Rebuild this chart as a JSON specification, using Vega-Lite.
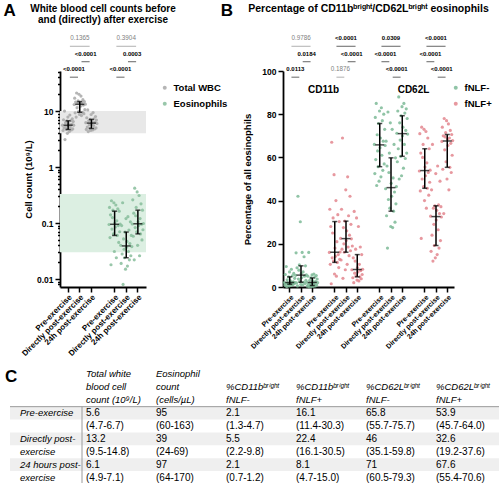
{
"$schema":"https://vega.github.io/schema/vega-lite/v6.json",
"padding":{"left":3,"top":1,"right":2,"bottom":0},
"background":"white",
"config":{
 "font":"Liberation Sans",
 "view":{"stroke":null},
 "axis":{"grid":false,"domainColor":"black","domainWidth":1.8,"tickColor":"black","tickWidth":1.5,"labelColor":"black","labelFontWeight":"bold","titleColor":"black","titleFontWeight":"bold","labelFont":"Liberation Sans","titleFont":"Liberation Sans"},
 "legend":{"labelFont":"Liberation Sans","labelFontSize":9.5,"labelFontWeight":"bold","labelColor":"black","symbolType":"circle","symbolSize":16,"rowPadding":5,"symbolStrokeWidth":0},
 "title":{"font":"Liberation Sans","color":"black","subtitleFont":"Liberation Sans","subtitleColor":"black"}
},
"datasets":{
"ptsA":[
{"g":"W|Pre-exercise","c":"Total WBC","i":6,"v":3.1},{"g":"W|Pre-exercise","c":"Total WBC","i":11,"v":4.0},{"g":"W|Pre-exercise","c":"Total WBC","i":15,"v":4.3},{"g":"W|Pre-exercise","c":"Total WBC","i":2,"v":4.5},{"g":"W|Pre-exercise","c":"Total WBC","i":19,"v":4.6},{"g":"W|Pre-exercise","c":"Total WBC","i":9,"v":4.7},{"g":"W|Pre-exercise","c":"Total WBC","i":22,"v":4.8},{"g":"W|Pre-exercise","c":"Total WBC","i":4,"v":5.0},{"g":"W|Pre-exercise","c":"Total WBC","i":17,"v":5.2},{"g":"W|Pre-exercise","c":"Total WBC","i":8,"v":5.3},{"g":"W|Pre-exercise","c":"Total WBC","i":13,"v":5.5},{"g":"W|Pre-exercise","c":"Total WBC","i":24,"v":5.6},{"g":"W|Pre-exercise","c":"Total WBC","i":1,"v":5.6},{"g":"W|Pre-exercise","c":"Total WBC","i":20,"v":5.8},{"g":"W|Pre-exercise","c":"Total WBC","i":14,"v":6.0},{"g":"W|Pre-exercise","c":"Total WBC","i":7,"v":6.2},{"g":"W|Pre-exercise","c":"Total WBC","i":23,"v":6.5},{"g":"W|Pre-exercise","c":"Total WBC","i":10,"v":6.7},{"g":"W|Pre-exercise","c":"Total WBC","i":18,"v":6.8},{"g":"W|Pre-exercise","c":"Total WBC","i":3,"v":7.0},{"g":"W|Pre-exercise","c":"Total WBC","i":21,"v":7.3},{"g":"W|Pre-exercise","c":"Total WBC","i":12,"v":7.8},{"g":"W|Pre-exercise","c":"Total WBC","i":16,"v":8.5},{"g":"W|Pre-exercise","c":"Total WBC","i":5,"v":10.0},
{"g":"W|Directly post-exercise","c":"Total WBC","i":5,"v":7.8},{"g":"W|Directly post-exercise","c":"Total WBC","i":16,"v":8.3},{"g":"W|Directly post-exercise","c":"Total WBC","i":12,"v":8.7},{"g":"W|Directly post-exercise","c":"Total WBC","i":21,"v":9.0},{"g":"W|Directly post-exercise","c":"Total WBC","i":3,"v":9.3},{"g":"W|Directly post-exercise","c":"Total WBC","i":18,"v":9.5},{"g":"W|Directly post-exercise","c":"Total WBC","i":10,"v":9.8},{"g":"W|Directly post-exercise","c":"Total WBC","i":23,"v":10.6},{"g":"W|Directly post-exercise","c":"Total WBC","i":7,"v":11.5},{"g":"W|Directly post-exercise","c":"Total WBC","i":14,"v":12.2},{"g":"W|Directly post-exercise","c":"Total WBC","i":20,"v":12.8},{"g":"W|Directly post-exercise","c":"Total WBC","i":1,"v":13.1},{"g":"W|Directly post-exercise","c":"Total WBC","i":24,"v":13.3},{"g":"W|Directly post-exercise","c":"Total WBC","i":13,"v":13.6},{"g":"W|Directly post-exercise","c":"Total WBC","i":17,"v":13.9},{"g":"W|Directly post-exercise","c":"Total WBC","i":8,"v":14.2},{"g":"W|Directly post-exercise","c":"Total WBC","i":4,"v":14.5},{"g":"W|Directly post-exercise","c":"Total WBC","i":22,"v":14.8},{"g":"W|Directly post-exercise","c":"Total WBC","i":9,"v":15.2},{"g":"W|Directly post-exercise","c":"Total WBC","i":19,"v":16.0},{"g":"W|Directly post-exercise","c":"Total WBC","i":2,"v":17.0},{"g":"W|Directly post-exercise","c":"Total WBC","i":15,"v":18.5},{"g":"W|Directly post-exercise","c":"Total WBC","i":11,"v":20.0},{"g":"W|Directly post-exercise","c":"Total WBC","i":6,"v":21.0},
{"g":"W|24h post-exercise","c":"Total WBC","i":6,"v":4.3},{"g":"W|24h post-exercise","c":"Total WBC","i":11,"v":4.5},{"g":"W|24h post-exercise","c":"Total WBC","i":15,"v":4.6},{"g":"W|24h post-exercise","c":"Total WBC","i":2,"v":4.7},{"g":"W|24h post-exercise","c":"Total WBC","i":19,"v":4.8},{"g":"W|24h post-exercise","c":"Total WBC","i":9,"v":4.9},{"g":"W|24h post-exercise","c":"Total WBC","i":22,"v":5.0},{"g":"W|24h post-exercise","c":"Total WBC","i":4,"v":5.2},{"g":"W|24h post-exercise","c":"Total WBC","i":17,"v":5.5},{"g":"W|24h post-exercise","c":"Total WBC","i":8,"v":5.7},{"g":"W|24h post-exercise","c":"Total WBC","i":13,"v":5.9},{"g":"W|24h post-exercise","c":"Total WBC","i":24,"v":6.0},{"g":"W|24h post-exercise","c":"Total WBC","i":1,"v":6.2},{"g":"W|24h post-exercise","c":"Total WBC","i":20,"v":6.3},{"g":"W|24h post-exercise","c":"Total WBC","i":14,"v":6.5},{"g":"W|24h post-exercise","c":"Total WBC","i":7,"v":6.7},{"g":"W|24h post-exercise","c":"Total WBC","i":23,"v":6.9},{"g":"W|24h post-exercise","c":"Total WBC","i":10,"v":7.1},{"g":"W|24h post-exercise","c":"Total WBC","i":18,"v":7.3},{"g":"W|24h post-exercise","c":"Total WBC","i":3,"v":7.6},{"g":"W|24h post-exercise","c":"Total WBC","i":21,"v":8.0},{"g":"W|24h post-exercise","c":"Total WBC","i":12,"v":8.7},{"g":"W|24h post-exercise","c":"Total WBC","i":16,"v":9.4},{"g":"W|24h post-exercise","c":"Total WBC","i":5,"v":10.5},
{"g":"E|Pre-exercise","c":"Eosinophils","i":5,"v":0.018},{"g":"E|Pre-exercise","c":"Eosinophils","i":16,"v":0.024},{"g":"E|Pre-exercise","c":"Eosinophils","i":12,"v":0.031},{"g":"E|Pre-exercise","c":"Eosinophils","i":21,"v":0.045},{"g":"E|Pre-exercise","c":"Eosinophils","i":3,"v":0.055},{"g":"E|Pre-exercise","c":"Eosinophils","i":18,"v":0.06},{"g":"E|Pre-exercise","c":"Eosinophils","i":10,"v":0.064},{"g":"E|Pre-exercise","c":"Eosinophils","i":23,"v":0.07},{"g":"E|Pre-exercise","c":"Eosinophils","i":7,"v":0.078},{"g":"E|Pre-exercise","c":"Eosinophils","i":14,"v":0.085},{"g":"E|Pre-exercise","c":"Eosinophils","i":20,"v":0.09},{"g":"E|Pre-exercise","c":"Eosinophils","i":1,"v":0.094},{"g":"E|Pre-exercise","c":"Eosinophils","i":24,"v":0.096},{"g":"E|Pre-exercise","c":"Eosinophils","i":13,"v":0.1},{"g":"E|Pre-exercise","c":"Eosinophils","i":17,"v":0.11},{"g":"E|Pre-exercise","c":"Eosinophils","i":8,"v":0.125},{"g":"E|Pre-exercise","c":"Eosinophils","i":4,"v":0.14},{"g":"E|Pre-exercise","c":"Eosinophils","i":22,"v":0.163},{"g":"E|Pre-exercise","c":"Eosinophils","i":9,"v":0.17},{"g":"E|Pre-exercise","c":"Eosinophils","i":19,"v":0.18},{"g":"E|Pre-exercise","c":"Eosinophils","i":2,"v":0.19},{"g":"E|Pre-exercise","c":"Eosinophils","i":15,"v":0.21},{"g":"E|Pre-exercise","c":"Eosinophils","i":11,"v":0.23},{"g":"E|Pre-exercise","c":"Eosinophils","i":6,"v":0.25},
{"g":"E|Directly post-exercise","c":"Eosinophils","i":6,"v":0.008},{"g":"E|Directly post-exercise","c":"Eosinophils","i":11,"v":0.015},{"g":"E|Directly post-exercise","c":"Eosinophils","i":15,"v":0.017},{"g":"E|Directly post-exercise","c":"Eosinophils","i":2,"v":0.019},{"g":"E|Directly post-exercise","c":"Eosinophils","i":19,"v":0.022},{"g":"E|Directly post-exercise","c":"Eosinophils","i":9,"v":0.024},{"g":"E|Directly post-exercise","c":"Eosinophils","i":22,"v":0.026},{"g":"E|Directly post-exercise","c":"Eosinophils","i":4,"v":0.028},{"g":"E|Directly post-exercise","c":"Eosinophils","i":17,"v":0.031},{"g":"E|Directly post-exercise","c":"Eosinophils","i":8,"v":0.034},{"g":"E|Directly post-exercise","c":"Eosinophils","i":13,"v":0.037},{"g":"E|Directly post-exercise","c":"Eosinophils","i":24,"v":0.038},{"g":"E|Directly post-exercise","c":"Eosinophils","i":1,"v":0.04},{"g":"E|Directly post-exercise","c":"Eosinophils","i":20,"v":0.043},{"g":"E|Directly post-exercise","c":"Eosinophils","i":14,"v":0.047},{"g":"E|Directly post-exercise","c":"Eosinophils","i":7,"v":0.052},{"g":"E|Directly post-exercise","c":"Eosinophils","i":23,"v":0.06},{"g":"E|Directly post-exercise","c":"Eosinophils","i":10,"v":0.069},{"g":"E|Directly post-exercise","c":"Eosinophils","i":18,"v":0.075},{"g":"E|Directly post-exercise","c":"Eosinophils","i":3,"v":0.09},{"g":"E|Directly post-exercise","c":"Eosinophils","i":21,"v":0.105},{"g":"E|Directly post-exercise","c":"Eosinophils","i":12,"v":0.12},{"g":"E|Directly post-exercise","c":"Eosinophils","i":16,"v":0.13},{"g":"E|Directly post-exercise","c":"Eosinophils","i":5,"v":0.23},
{"g":"E|24h post-exercise","c":"Eosinophils","i":5,"v":0.022},{"g":"E|24h post-exercise","c":"Eosinophils","i":16,"v":0.026},{"g":"E|24h post-exercise","c":"Eosinophils","i":12,"v":0.04},{"g":"E|24h post-exercise","c":"Eosinophils","i":21,"v":0.05},{"g":"E|24h post-exercise","c":"Eosinophils","i":3,"v":0.058},{"g":"E|24h post-exercise","c":"Eosinophils","i":18,"v":0.064},{"g":"E|24h post-exercise","c":"Eosinophils","i":10,"v":0.07},{"g":"E|24h post-exercise","c":"Eosinophils","i":23,"v":0.076},{"g":"E|24h post-exercise","c":"Eosinophils","i":7,"v":0.083},{"g":"E|24h post-exercise","c":"Eosinophils","i":14,"v":0.09},{"g":"E|24h post-exercise","c":"Eosinophils","i":20,"v":0.095},{"g":"E|24h post-exercise","c":"Eosinophils","i":1,"v":0.096},{"g":"E|24h post-exercise","c":"Eosinophils","i":24,"v":0.098},{"g":"E|24h post-exercise","c":"Eosinophils","i":13,"v":0.105},{"g":"E|24h post-exercise","c":"Eosinophils","i":17,"v":0.12},{"g":"E|24h post-exercise","c":"Eosinophils","i":8,"v":0.135},{"g":"E|24h post-exercise","c":"Eosinophils","i":4,"v":0.15},{"g":"E|24h post-exercise","c":"Eosinophils","i":22,"v":0.17},{"g":"E|24h post-exercise","c":"Eosinophils","i":9,"v":0.19},{"g":"E|24h post-exercise","c":"Eosinophils","i":19,"v":0.22},{"g":"E|24h post-exercise","c":"Eosinophils","i":2,"v":0.26},{"g":"E|24h post-exercise","c":"Eosinophils","i":15,"v":0.31},{"g":"E|24h post-exercise","c":"Eosinophils","i":11,"v":0.36},{"g":"E|24h post-exercise","c":"Eosinophils","i":6,"v":0.42}
],
"ptsB":[
{"g":"b-|Pre-exercise","c":"fNLF-","i":6,"v":0.2},{"g":"b-|Pre-exercise","c":"fNLF-","i":11,"v":0.5},{"g":"b-|Pre-exercise","c":"fNLF-","i":15,"v":0.7},{"g":"b-|Pre-exercise","c":"fNLF-","i":2,"v":0.9},{"g":"b-|Pre-exercise","c":"fNLF-","i":19,"v":1.1},{"g":"b-|Pre-exercise","c":"fNLF-","i":9,"v":1.3},{"g":"b-|Pre-exercise","c":"fNLF-","i":22,"v":1.5},{"g":"b-|Pre-exercise","c":"fNLF-","i":4,"v":1.7},{"g":"b-|Pre-exercise","c":"fNLF-","i":17,"v":1.8},{"g":"b-|Pre-exercise","c":"fNLF-","i":8,"v":1.9},{"g":"b-|Pre-exercise","c":"fNLF-","i":13,"v":2.0},{"g":"b-|Pre-exercise","c":"fNLF-","i":24,"v":2.1},{"g":"b-|Pre-exercise","c":"fNLF-","i":1,"v":2.1},{"g":"b-|Pre-exercise","c":"fNLF-","i":20,"v":2.4},{"g":"b-|Pre-exercise","c":"fNLF-","i":14,"v":2.8},{"g":"b-|Pre-exercise","c":"fNLF-","i":7,"v":3.3},{"g":"b-|Pre-exercise","c":"fNLF-","i":23,"v":4.0},{"g":"b-|Pre-exercise","c":"fNLF-","i":10,"v":4.7},{"g":"b-|Pre-exercise","c":"fNLF-","i":18,"v":5.2},{"g":"b-|Pre-exercise","c":"fNLF-","i":3,"v":5.8},{"g":"b-|Pre-exercise","c":"fNLF-","i":21,"v":6.3},{"g":"b-|Pre-exercise","c":"fNLF-","i":12,"v":7.0},{"g":"b-|Pre-exercise","c":"fNLF-","i":16,"v":8.2},{"g":"b-|Pre-exercise","c":"fNLF-","i":5,"v":9.5},
{"g":"b-|Directly post-exercise","c":"fNLF-","i":5,"v":0.5},{"g":"b-|Directly post-exercise","c":"fNLF-","i":16,"v":0.9},{"g":"b-|Directly post-exercise","c":"fNLF-","i":12,"v":1.2},{"g":"b-|Directly post-exercise","c":"fNLF-","i":21,"v":1.6},{"g":"b-|Directly post-exercise","c":"fNLF-","i":3,"v":1.9},{"g":"b-|Directly post-exercise","c":"fNLF-","i":18,"v":2.2},{"g":"b-|Directly post-exercise","c":"fNLF-","i":10,"v":2.6},{"g":"b-|Directly post-exercise","c":"fNLF-","i":23,"v":3.1},{"g":"b-|Directly post-exercise","c":"fNLF-","i":7,"v":3.7},{"g":"b-|Directly post-exercise","c":"fNLF-","i":14,"v":4.3},{"g":"b-|Directly post-exercise","c":"fNLF-","i":20,"v":5.0},{"g":"b-|Directly post-exercise","c":"fNLF-","i":1,"v":5.4},{"g":"b-|Directly post-exercise","c":"fNLF-","i":24,"v":5.6},{"g":"b-|Directly post-exercise","c":"fNLF-","i":13,"v":6.2},{"g":"b-|Directly post-exercise","c":"fNLF-","i":17,"v":7.0},{"g":"b-|Directly post-exercise","c":"fNLF-","i":8,"v":7.8},{"g":"b-|Directly post-exercise","c":"fNLF-","i":4,"v":8.9},{"g":"b-|Directly post-exercise","c":"fNLF-","i":22,"v":9.8},{"g":"b-|Directly post-exercise","c":"fNLF-","i":9,"v":10.3},{"g":"b-|Directly post-exercise","c":"fNLF-","i":19,"v":14.0},{"g":"b-|Directly post-exercise","c":"fNLF-","i":2,"v":15.8},{"g":"b-|Directly post-exercise","c":"fNLF-","i":15,"v":16.0},{"g":"b-|Directly post-exercise","c":"fNLF-","i":11,"v":30.2},{"g":"b-|Directly post-exercise","c":"fNLF-","i":6,"v":42.0},
{"g":"b-|24h post-exercise","c":"fNLF-","i":6,"v":0.0},{"g":"b-|24h post-exercise","c":"fNLF-","i":11,"v":0.2},{"g":"b-|24h post-exercise","c":"fNLF-","i":15,"v":0.3},{"g":"b-|24h post-exercise","c":"fNLF-","i":2,"v":0.4},{"g":"b-|24h post-exercise","c":"fNLF-","i":19,"v":0.5},{"g":"b-|24h post-exercise","c":"fNLF-","i":9,"v":0.7},{"g":"b-|24h post-exercise","c":"fNLF-","i":22,"v":0.9},{"g":"b-|24h post-exercise","c":"fNLF-","i":4,"v":1.1},{"g":"b-|24h post-exercise","c":"fNLF-","i":17,"v":1.4},{"g":"b-|24h post-exercise","c":"fNLF-","i":8,"v":1.6},{"g":"b-|24h post-exercise","c":"fNLF-","i":13,"v":1.9},{"g":"b-|24h post-exercise","c":"fNLF-","i":24,"v":2.0},{"g":"b-|24h post-exercise","c":"fNLF-","i":1,"v":2.2},{"g":"b-|24h post-exercise","c":"fNLF-","i":20,"v":2.5},{"g":"b-|24h post-exercise","c":"fNLF-","i":14,"v":2.8},{"g":"b-|24h post-exercise","c":"fNLF-","i":7,"v":3.1},{"g":"b-|24h post-exercise","c":"fNLF-","i":23,"v":3.7},{"g":"b-|24h post-exercise","c":"fNLF-","i":10,"v":4.2},{"g":"b-|24h post-exercise","c":"fNLF-","i":18,"v":4.6},{"g":"b-|24h post-exercise","c":"fNLF-","i":3,"v":5.0},{"g":"b-|24h post-exercise","c":"fNLF-","i":21,"v":5.3},{"g":"b-|24h post-exercise","c":"fNLF-","i":12,"v":5.6},{"g":"b-|24h post-exercise","c":"fNLF-","i":16,"v":6.0},{"g":"b-|24h post-exercise","c":"fNLF-","i":5,"v":16.0},
{"g":"b+|Pre-exercise","c":"fNLF+","i":5,"v":1.5},{"g":"b+|Pre-exercise","c":"fNLF+","i":16,"v":5.0},{"g":"b+|Pre-exercise","c":"fNLF+","i":12,"v":6.0},{"g":"b+|Pre-exercise","c":"fNLF+","i":21,"v":9.0},{"g":"b+|Pre-exercise","c":"fNLF+","i":3,"v":10.5},{"g":"b+|Pre-exercise","c":"fNLF+","i":18,"v":11.4},{"g":"b+|Pre-exercise","c":"fNLF+","i":10,"v":12.0},{"g":"b+|Pre-exercise","c":"fNLF+","i":23,"v":12.8},{"g":"b+|Pre-exercise","c":"fNLF+","i":7,"v":13.5},{"g":"b+|Pre-exercise","c":"fNLF+","i":14,"v":14.2},{"g":"b+|Pre-exercise","c":"fNLF+","i":20,"v":15.0},{"g":"b+|Pre-exercise","c":"fNLF+","i":1,"v":16.0},{"g":"b+|Pre-exercise","c":"fNLF+","i":24,"v":16.2},{"g":"b+|Pre-exercise","c":"fNLF+","i":13,"v":18.0},{"g":"b+|Pre-exercise","c":"fNLF+","i":17,"v":21.0},{"g":"b+|Pre-exercise","c":"fNLF+","i":8,"v":25.0},{"g":"b+|Pre-exercise","c":"fNLF+","i":4,"v":28.0},{"g":"b+|Pre-exercise","c":"fNLF+","i":22,"v":30.3},{"g":"b+|Pre-exercise","c":"fNLF+","i":9,"v":32.0},{"g":"b+|Pre-exercise","c":"fNLF+","i":19,"v":33.5},{"g":"b+|Pre-exercise","c":"fNLF+","i":2,"v":36.0},{"g":"b+|Pre-exercise","c":"fNLF+","i":15,"v":40.0},{"g":"b+|Pre-exercise","c":"fNLF+","i":11,"v":52.0},{"g":"b+|Pre-exercise","c":"fNLF+","i":6,"v":67.0},
{"g":"b+|Directly post-exercise","c":"fNLF+","i":6,"v":4.0},{"g":"b+|Directly post-exercise","c":"fNLF+","i":11,"v":8.0},{"g":"b+|Directly post-exercise","c":"fNLF+","i":15,"v":10.5},{"g":"b+|Directly post-exercise","c":"fNLF+","i":2,"v":12.5},{"g":"b+|Directly post-exercise","c":"fNLF+","i":19,"v":14.5},{"g":"b+|Directly post-exercise","c":"fNLF+","i":9,"v":16.1},{"g":"b+|Directly post-exercise","c":"fNLF+","i":22,"v":16.8},{"g":"b+|Directly post-exercise","c":"fNLF+","i":4,"v":17.5},{"g":"b+|Directly post-exercise","c":"fNLF+","i":17,"v":18.5},{"g":"b+|Directly post-exercise","c":"fNLF+","i":8,"v":20.0},{"g":"b+|Directly post-exercise","c":"fNLF+","i":13,"v":21.5},{"g":"b+|Directly post-exercise","c":"fNLF+","i":24,"v":22.3},{"g":"b+|Directly post-exercise","c":"fNLF+","i":1,"v":22.5},{"g":"b+|Directly post-exercise","c":"fNLF+","i":20,"v":24.0},{"g":"b+|Directly post-exercise","c":"fNLF+","i":14,"v":26.0},{"g":"b+|Directly post-exercise","c":"fNLF+","i":7,"v":27.5},{"g":"b+|Directly post-exercise","c":"fNLF+","i":23,"v":29.0},{"g":"b+|Directly post-exercise","c":"fNLF+","i":10,"v":30.5},{"g":"b+|Directly post-exercise","c":"fNLF+","i":18,"v":33.0},{"g":"b+|Directly post-exercise","c":"fNLF+","i":3,"v":36.0},{"g":"b+|Directly post-exercise","c":"fNLF+","i":21,"v":42.0},{"g":"b+|Directly post-exercise","c":"fNLF+","i":12,"v":45.0},{"g":"b+|Directly post-exercise","c":"fNLF+","i":16,"v":51.0},{"g":"b+|Directly post-exercise","c":"fNLF+","i":5,"v":69.0},
{"g":"b+|24h post-exercise","c":"fNLF+","i":5,"v":2.0},{"g":"b+|24h post-exercise","c":"fNLF+","i":16,"v":2.8},{"g":"b+|24h post-exercise","c":"fNLF+","i":12,"v":3.2},{"g":"b+|24h post-exercise","c":"fNLF+","i":21,"v":3.8},{"g":"b+|24h post-exercise","c":"fNLF+","i":3,"v":4.3},{"g":"b+|24h post-exercise","c":"fNLF+","i":18,"v":4.7},{"g":"b+|24h post-exercise","c":"fNLF+","i":10,"v":5.2},{"g":"b+|24h post-exercise","c":"fNLF+","i":23,"v":5.8},{"g":"b+|24h post-exercise","c":"fNLF+","i":7,"v":6.4},{"g":"b+|24h post-exercise","c":"fNLF+","i":14,"v":7.0},{"g":"b+|24h post-exercise","c":"fNLF+","i":20,"v":7.6},{"g":"b+|24h post-exercise","c":"fNLF+","i":1,"v":8.0},{"g":"b+|24h post-exercise","c":"fNLF+","i":24,"v":8.2},{"g":"b+|24h post-exercise","c":"fNLF+","i":13,"v":9.0},{"g":"b+|24h post-exercise","c":"fNLF+","i":17,"v":10.5},{"g":"b+|24h post-exercise","c":"fNLF+","i":8,"v":12.0},{"g":"b+|24h post-exercise","c":"fNLF+","i":4,"v":13.5},{"g":"b+|24h post-exercise","c":"fNLF+","i":22,"v":15.0},{"g":"b+|24h post-exercise","c":"fNLF+","i":9,"v":17.5},{"g":"b+|24h post-exercise","c":"fNLF+","i":19,"v":18.5},{"g":"b+|24h post-exercise","c":"fNLF+","i":2,"v":19.0},{"g":"b+|24h post-exercise","c":"fNLF+","i":15,"v":28.0},{"g":"b+|24h post-exercise","c":"fNLF+","i":11,"v":32.0},{"g":"b+|24h post-exercise","c":"fNLF+","i":6,"v":35.0},
{"g":"L-|Pre-exercise","c":"fNLF-","i":6,"v":47.0},{"g":"L-|Pre-exercise","c":"fNLF-","i":11,"v":49.0},{"g":"L-|Pre-exercise","c":"fNLF-","i":15,"v":51.0},{"g":"L-|Pre-exercise","c":"fNLF-","i":2,"v":52.5},{"g":"L-|Pre-exercise","c":"fNLF-","i":19,"v":54.0},{"g":"L-|Pre-exercise","c":"fNLF-","i":9,"v":55.7},{"g":"L-|Pre-exercise","c":"fNLF-","i":22,"v":57.0},{"g":"L-|Pre-exercise","c":"fNLF-","i":4,"v":59.0},{"g":"L-|Pre-exercise","c":"fNLF-","i":17,"v":61.0},{"g":"L-|Pre-exercise","c":"fNLF-","i":8,"v":63.0},{"g":"L-|Pre-exercise","c":"fNLF-","i":13,"v":64.5},{"g":"L-|Pre-exercise","c":"fNLF-","i":24,"v":65.5},{"g":"L-|Pre-exercise","c":"fNLF-","i":1,"v":66.0},{"g":"L-|Pre-exercise","c":"fNLF-","i":20,"v":67.5},{"g":"L-|Pre-exercise","c":"fNLF-","i":14,"v":69.0},{"g":"L-|Pre-exercise","c":"fNLF-","i":7,"v":70.5},{"g":"L-|Pre-exercise","c":"fNLF-","i":23,"v":73.0},{"g":"L-|Pre-exercise","c":"fNLF-","i":10,"v":75.7},{"g":"L-|Pre-exercise","c":"fNLF-","i":18,"v":77.0},{"g":"L-|Pre-exercise","c":"fNLF-","i":3,"v":78.5},{"g":"L-|Pre-exercise","c":"fNLF-","i":21,"v":80.0},{"g":"L-|Pre-exercise","c":"fNLF-","i":12,"v":81.5},{"g":"L-|Pre-exercise","c":"fNLF-","i":16,"v":83.0},{"g":"L-|Pre-exercise","c":"fNLF-","i":5,"v":85.0},
{"g":"L-|Directly post-exercise","c":"fNLF-","i":5,"v":18.0},{"g":"L-|Directly post-exercise","c":"fNLF-","i":16,"v":27.5},{"g":"L-|Directly post-exercise","c":"fNLF-","i":12,"v":28.0},{"g":"L-|Directly post-exercise","c":"fNLF-","i":21,"v":30.0},{"g":"L-|Directly post-exercise","c":"fNLF-","i":3,"v":33.0},{"g":"L-|Directly post-exercise","c":"fNLF-","i":18,"v":35.1},{"g":"L-|Directly post-exercise","c":"fNLF-","i":10,"v":36.5},{"g":"L-|Directly post-exercise","c":"fNLF-","i":23,"v":38.5},{"g":"L-|Directly post-exercise","c":"fNLF-","i":7,"v":40.5},{"g":"L-|Directly post-exercise","c":"fNLF-","i":14,"v":42.0},{"g":"L-|Directly post-exercise","c":"fNLF-","i":20,"v":44.0},{"g":"L-|Directly post-exercise","c":"fNLF-","i":1,"v":45.5},{"g":"L-|Directly post-exercise","c":"fNLF-","i":24,"v":46.5},{"g":"L-|Directly post-exercise","c":"fNLF-","i":13,"v":48.0},{"g":"L-|Directly post-exercise","c":"fNLF-","i":17,"v":50.5},{"g":"L-|Directly post-exercise","c":"fNLF-","i":8,"v":53.0},{"g":"L-|Directly post-exercise","c":"fNLF-","i":4,"v":56.0},{"g":"L-|Directly post-exercise","c":"fNLF-","i":22,"v":59.8},{"g":"L-|Directly post-exercise","c":"fNLF-","i":9,"v":62.0},{"g":"L-|Directly post-exercise","c":"fNLF-","i":19,"v":66.0},{"g":"L-|Directly post-exercise","c":"fNLF-","i":2,"v":67.5},{"g":"L-|Directly post-exercise","c":"fNLF-","i":15,"v":73.0},{"g":"L-|Directly post-exercise","c":"fNLF-","i":11,"v":76.0},{"g":"L-|Directly post-exercise","c":"fNLF-","i":6,"v":81.0},
{"g":"L-|24h post-exercise","c":"fNLF-","i":6,"v":50.0},{"g":"L-|24h post-exercise","c":"fNLF-","i":11,"v":51.5},{"g":"L-|24h post-exercise","c":"fNLF-","i":15,"v":55.0},{"g":"L-|24h post-exercise","c":"fNLF-","i":2,"v":58.0},{"g":"L-|24h post-exercise","c":"fNLF-","i":19,"v":59.5},{"g":"L-|24h post-exercise","c":"fNLF-","i":9,"v":60.5},{"g":"L-|24h post-exercise","c":"fNLF-","i":22,"v":62.0},{"g":"L-|24h post-exercise","c":"fNLF-","i":4,"v":64.0},{"g":"L-|24h post-exercise","c":"fNLF-","i":17,"v":66.0},{"g":"L-|24h post-exercise","c":"fNLF-","i":8,"v":68.0},{"g":"L-|24h post-exercise","c":"fNLF-","i":13,"v":70.0},{"g":"L-|24h post-exercise","c":"fNLF-","i":24,"v":70.8},{"g":"L-|24h post-exercise","c":"fNLF-","i":1,"v":71.2},{"g":"L-|24h post-exercise","c":"fNLF-","i":20,"v":72.5},{"g":"L-|24h post-exercise","c":"fNLF-","i":14,"v":74.0},{"g":"L-|24h post-exercise","c":"fNLF-","i":7,"v":76.0},{"g":"L-|24h post-exercise","c":"fNLF-","i":23,"v":78.0},{"g":"L-|24h post-exercise","c":"fNLF-","i":10,"v":79.3},{"g":"L-|24h post-exercise","c":"fNLF-","i":18,"v":80.5},{"g":"L-|24h post-exercise","c":"fNLF-","i":3,"v":81.5},{"g":"L-|24h post-exercise","c":"fNLF-","i":21,"v":82.5},{"g":"L-|24h post-exercise","c":"fNLF-","i":12,"v":83.5},{"g":"L-|24h post-exercise","c":"fNLF-","i":16,"v":85.0},{"g":"L-|24h post-exercise","c":"fNLF-","i":5,"v":88.0},
{"g":"L+|Pre-exercise","c":"fNLF+","i":5,"v":22.5},{"g":"L+|Pre-exercise","c":"fNLF+","i":16,"v":36.5},{"g":"L+|Pre-exercise","c":"fNLF+","i":12,"v":40.0},{"g":"L+|Pre-exercise","c":"fNLF+","i":21,"v":42.5},{"g":"L+|Pre-exercise","c":"fNLF+","i":3,"v":44.5},{"g":"L+|Pre-exercise","c":"fNLF+","i":18,"v":45.7},{"g":"L+|Pre-exercise","c":"fNLF+","i":10,"v":46.5},{"g":"L+|Pre-exercise","c":"fNLF+","i":23,"v":48.5},{"g":"L+|Pre-exercise","c":"fNLF+","i":7,"v":50.0},{"g":"L+|Pre-exercise","c":"fNLF+","i":14,"v":51.5},{"g":"L+|Pre-exercise","c":"fNLF+","i":20,"v":53.0},{"g":"L+|Pre-exercise","c":"fNLF+","i":1,"v":53.7},{"g":"L+|Pre-exercise","c":"fNLF+","i":24,"v":54.1},{"g":"L+|Pre-exercise","c":"fNLF+","i":13,"v":55.5},{"g":"L+|Pre-exercise","c":"fNLF+","i":17,"v":57.5},{"g":"L+|Pre-exercise","c":"fNLF+","i":8,"v":60.0},{"g":"L+|Pre-exercise","c":"fNLF+","i":4,"v":62.0},{"g":"L+|Pre-exercise","c":"fNLF+","i":22,"v":64.0},{"g":"L+|Pre-exercise","c":"fNLF+","i":9,"v":66.0},{"g":"L+|Pre-exercise","c":"fNLF+","i":19,"v":69.0},{"g":"L+|Pre-exercise","c":"fNLF+","i":2,"v":71.0},{"g":"L+|Pre-exercise","c":"fNLF+","i":15,"v":72.0},{"g":"L+|Pre-exercise","c":"fNLF+","i":11,"v":73.0},{"g":"L+|Pre-exercise","c":"fNLF+","i":6,"v":74.0},
{"g":"L+|Directly post-exercise","c":"fNLF+","i":6,"v":12.0},{"g":"L+|Directly post-exercise","c":"fNLF+","i":11,"v":13.5},{"g":"L+|Directly post-exercise","c":"fNLF+","i":15,"v":15.0},{"g":"L+|Directly post-exercise","c":"fNLF+","i":2,"v":16.5},{"g":"L+|Directly post-exercise","c":"fNLF+","i":19,"v":18.0},{"g":"L+|Directly post-exercise","c":"fNLF+","i":9,"v":19.2},{"g":"L+|Directly post-exercise","c":"fNLF+","i":22,"v":21.5},{"g":"L+|Directly post-exercise","c":"fNLF+","i":4,"v":24.0},{"g":"L+|Directly post-exercise","c":"fNLF+","i":17,"v":26.5},{"g":"L+|Directly post-exercise","c":"fNLF+","i":8,"v":29.0},{"g":"L+|Directly post-exercise","c":"fNLF+","i":13,"v":31.0},{"g":"L+|Directly post-exercise","c":"fNLF+","i":24,"v":32.4},{"g":"L+|Directly post-exercise","c":"fNLF+","i":1,"v":32.8},{"g":"L+|Directly post-exercise","c":"fNLF+","i":20,"v":34.0},{"g":"L+|Directly post-exercise","c":"fNLF+","i":14,"v":35.5},{"g":"L+|Directly post-exercise","c":"fNLF+","i":7,"v":36.5},{"g":"L+|Directly post-exercise","c":"fNLF+","i":23,"v":37.2},{"g":"L+|Directly post-exercise","c":"fNLF+","i":10,"v":37.6},{"g":"L+|Directly post-exercise","c":"fNLF+","i":18,"v":38.0},{"g":"L+|Directly post-exercise","c":"fNLF+","i":3,"v":45.0},{"g":"L+|Directly post-exercise","c":"fNLF+","i":21,"v":49.0},{"g":"L+|Directly post-exercise","c":"fNLF+","i":12,"v":52.5},{"g":"L+|Directly post-exercise","c":"fNLF+","i":16,"v":56.0},{"g":"L+|Directly post-exercise","c":"fNLF+","i":5,"v":66.0},
{"g":"L+|24h post-exercise","c":"fNLF+","i":5,"v":34.0},{"g":"L+|24h post-exercise","c":"fNLF+","i":16,"v":45.0},{"g":"L+|24h post-exercise","c":"fNLF+","i":12,"v":50.0},{"g":"L+|24h post-exercise","c":"fNLF+","i":21,"v":53.0},{"g":"L+|24h post-exercise","c":"fNLF+","i":3,"v":54.5},{"g":"L+|24h post-exercise","c":"fNLF+","i":18,"v":55.4},{"g":"L+|24h post-exercise","c":"fNLF+","i":10,"v":58.0},{"g":"L+|24h post-exercise","c":"fNLF+","i":23,"v":61.0},{"g":"L+|24h post-exercise","c":"fNLF+","i":7,"v":63.5},{"g":"L+|24h post-exercise","c":"fNLF+","i":14,"v":65.5},{"g":"L+|24h post-exercise","c":"fNLF+","i":20,"v":66.5},{"g":"L+|24h post-exercise","c":"fNLF+","i":1,"v":67.4},{"g":"L+|24h post-exercise","c":"fNLF+","i":24,"v":67.8},{"g":"L+|24h post-exercise","c":"fNLF+","i":13,"v":68.5},{"g":"L+|24h post-exercise","c":"fNLF+","i":17,"v":69.0},{"g":"L+|24h post-exercise","c":"fNLF+","i":8,"v":69.5},{"g":"L+|24h post-exercise","c":"fNLF+","i":4,"v":70.0},{"g":"L+|24h post-exercise","c":"fNLF+","i":22,"v":70.6},{"g":"L+|24h post-exercise","c":"fNLF+","i":9,"v":71.5},{"g":"L+|24h post-exercise","c":"fNLF+","i":19,"v":72.5},{"g":"L+|24h post-exercise","c":"fNLF+","i":2,"v":74.0},{"g":"L+|24h post-exercise","c":"fNLF+","i":15,"v":75.5},{"g":"L+|24h post-exercise","c":"fNLF+","i":11,"v":77.0},{"g":"L+|24h post-exercise","c":"fNLF+","i":6,"v":78.0}
],
"sumA":[
{"g":"W|Pre-exercise","med":5.6,"q1":4.7,"q3":6.7},{"g":"W|Directly post-exercise","med":13.2,"q1":9.5,"q3":14.8},{"g":"W|24h post-exercise","med":6.1,"q1":4.9,"q3":7.1},
{"g":"E|Pre-exercise","med":0.095,"q1":0.06,"q3":0.163},{"g":"E|Directly post-exercise","med":0.039,"q1":0.024,"q3":0.069},{"g":"E|24h post-exercise","med":0.097,"q1":0.064,"q3":0.17}
],
"sumB":[
{"g":"b-|Pre-exercise","med":2.1,"q1":1.3,"q3":4.7},{"g":"b-|Directly post-exercise","med":5.5,"q1":2.2,"q3":9.8},{"g":"b-|24h post-exercise","med":2.1,"q1":0.7,"q3":4.2},
{"g":"b+|Pre-exercise","med":16.1,"q1":11.4,"q3":30.3},{"g":"b+|Directly post-exercise","med":22.4,"q1":16.1,"q3":30.5},{"g":"b+|24h post-exercise","med":8.1,"q1":4.7,"q3":15.0},
{"g":"L-|Pre-exercise","med":65.8,"q1":55.7,"q3":75.7},{"g":"L-|Directly post-exercise","med":46,"q1":35.1,"q3":59.8},{"g":"L-|24h post-exercise","med":71,"q1":60.5,"q3":79.3},
{"g":"L+|Pre-exercise","med":53.9,"q1":45.7,"q3":64.0},{"g":"L+|Directly post-exercise","med":32.6,"q1":19.2,"q3":37.6},{"g":"L+|24h post-exercise","med":67.6,"q1":55.4,"q3":70.6}
],
"cmpA":[
{"a":"W|Pre-exercise","b":"W|Directly post-exercise","tx":"W|Pre-exercise","k":"adj","tier":3,"p":"<0.0001","sig":true},
{"a":"W|Directly post-exercise","b":"W|24h post-exercise","tx":"W|Directly post-exercise","k":"adj","tier":2,"p":"<0.0001","sig":true},
{"a":"W|Pre-exercise","b":"W|24h post-exercise","tx":"W|Directly post-exercise","k":"span","tier":1,"p":"0.1365","sig":false},
{"a":"E|Pre-exercise","b":"E|Directly post-exercise","tx":"E|Pre-exercise","k":"adj","tier":3,"p":"<0.0001","sig":true},
{"a":"E|Directly post-exercise","b":"E|24h post-exercise","tx":"E|Directly post-exercise","k":"adj","tier":2,"p":"0.0003","sig":true},
{"a":"E|Pre-exercise","b":"E|24h post-exercise","tx":"E|Directly post-exercise","k":"span","tier":1,"p":"0.3904","sig":false}
],
"cmpB":[
{"a":"b-|Pre-exercise","b":"b-|Directly post-exercise","tx":"b-|Pre-exercise","k":"adj","tier":3,"p":"0.0113","sig":true},
{"a":"b-|Directly post-exercise","b":"b-|24h post-exercise","tx":"b-|Directly post-exercise","k":"adj","tier":2,"p":"0.0184","sig":true},
{"a":"b-|Pre-exercise","b":"b-|24h post-exercise","tx":"b-|Directly post-exercise","k":"span","tier":1,"p":"0.9786","sig":false},
{"a":"b+|Pre-exercise","b":"b+|Directly post-exercise","tx":"b+|Pre-exercise","k":"adj","tier":3,"p":"0.1876","sig":false},
{"a":"b+|Directly post-exercise","b":"b+|24h post-exercise","tx":"b+|Directly post-exercise","k":"adj","tier":2,"p":"<0.0001","sig":true},
{"a":"b+|Pre-exercise","b":"b+|24h post-exercise","tx":"b+|Directly post-exercise","k":"span","tier":1,"p":"<0.0001","sig":true},
{"a":"L-|Pre-exercise","b":"L-|Directly post-exercise","tx":"L-|Pre-exercise","k":"adj","tier":2,"p":"<0.0001","sig":true},
{"a":"L-|Directly post-exercise","b":"L-|24h post-exercise","tx":"L-|Directly post-exercise","k":"adj","tier":3,"p":"<0.0001","sig":true},
{"a":"L-|Pre-exercise","b":"L-|24h post-exercise","tx":"L-|Directly post-exercise","k":"span","tier":1,"p":"0.0309","sig":true},
{"a":"L+|Pre-exercise","b":"L+|Directly post-exercise","tx":"L+|Pre-exercise","k":"adj","tier":2,"p":"<0.0001","sig":true},
{"a":"L+|Directly post-exercise","b":"L+|24h post-exercise","tx":"L+|Directly post-exercise","k":"adj","tier":3,"p":"<0.0001","sig":true},
{"a":"L+|Pre-exercise","b":"L+|24h post-exercise","tx":"L+|Directly post-exercise","k":"span","tier":1,"p":"<0.0001","sig":true}
],
"tbl":[
{"col":"c1","ln":0,"h":true,"t":"Total white"},{"col":"c1","ln":1,"h":true,"t":"blood cell"},{"col":"c1","ln":2,"h":true,"t":"count (10⁹/L)"},
{"col":"c2","ln":0,"h":true,"t":"Eosinophil"},{"col":"c2","ln":1,"h":true,"t":"count"},{"col":"c2","ln":2,"h":true,"t":"(cells/µL)"},
{"col":"c3","ln":1,"h":true,"t":"%CD11bᵇʳⁱᵍʰᵗ"},{"col":"c3","ln":2,"h":true,"t":"fNLF-"},
{"col":"c4","ln":1,"h":true,"t":"%CD11bᵇʳⁱᵍʰᵗ"},{"col":"c4","ln":2,"h":true,"t":"fNLF+"},
{"col":"c5","ln":1,"h":true,"t":"%CD62Lᵇʳⁱᵍʰᵗ"},{"col":"c5","ln":2,"h":true,"t":"fNLF-"},
{"col":"c6","ln":1,"h":true,"t":"%CD62Lᵇʳⁱᵍʰᵗ"},{"col":"c6","ln":2,"h":true,"t":"fNLF+"},
{"col":"r","ln":3,"h":true,"t":"Pre-exercise"},{"col":"r","ln":5,"h":true,"t":"Directly post-"},{"col":"r","ln":6,"h":true,"t":"exercise"},{"col":"r","ln":7,"h":true,"t":"24 hours post-"},{"col":"r","ln":8,"h":true,"t":"exercise"},
{"col":"c1","ln":3,"h":false,"t":"5.6"},{"col":"c1","ln":4,"h":false,"t":"(4.7-6.7)"},{"col":"c1","ln":5,"h":false,"t":"13.2"},{"col":"c1","ln":6,"h":false,"t":"(9.5-14.8)"},{"col":"c1","ln":7,"h":false,"t":"6.1"},{"col":"c1","ln":8,"h":false,"t":"(4.9-7.1)"},
{"col":"c2","ln":3,"h":false,"t":"95"},{"col":"c2","ln":4,"h":false,"t":"(60-163)"},{"col":"c2","ln":5,"h":false,"t":"39"},{"col":"c2","ln":6,"h":false,"t":"(24-69)"},{"col":"c2","ln":7,"h":false,"t":"97"},{"col":"c2","ln":8,"h":false,"t":"(64-170)"},
{"col":"c3","ln":3,"h":false,"t":"2.1"},{"col":"c3","ln":4,"h":false,"t":"(1.3-4.7)"},{"col":"c3","ln":5,"h":false,"t":"5.5"},{"col":"c3","ln":6,"h":false,"t":"(2.2-9.8)"},{"col":"c3","ln":7,"h":false,"t":"2.1"},{"col":"c3","ln":8,"h":false,"t":"(0.7-1.2)"},
{"col":"c4","ln":3,"h":false,"t":"16.1"},{"col":"c4","ln":4,"h":false,"t":"(11.4-30.3)"},{"col":"c4","ln":5,"h":false,"t":"22.4"},{"col":"c4","ln":6,"h":false,"t":"(16.1-30.5)"},{"col":"c4","ln":7,"h":false,"t":"8.1"},{"col":"c4","ln":8,"h":false,"t":"(4.7-15.0)"},
{"col":"c5","ln":3,"h":false,"t":"65.8"},{"col":"c5","ln":4,"h":false,"t":"(55.7-75.7)"},{"col":"c5","ln":5,"h":false,"t":"46"},{"col":"c5","ln":6,"h":false,"t":"(35.1-59.8)"},{"col":"c5","ln":7,"h":false,"t":"71"},{"col":"c5","ln":8,"h":false,"t":"(60.5-79.3)"},
{"col":"c6","ln":3,"h":false,"t":"53.9"},{"col":"c6","ln":4,"h":false,"t":"(45.7-64.0)"},{"col":"c6","ln":5,"h":false,"t":"32.6"},{"col":"c6","ln":6,"h":false,"t":"(19.2-37.6)"},{"col":"c6","ln":7,"h":false,"t":"67.6"},{"col":"c6","ln":8,"h":false,"t":"(55.4-70.6)"}
]
},
"concat":[
{
"hconcat":[
{
 "title":{"text":"A","anchor":"start","fontSize":17,"fontWeight":"bold","dx":-17,"offset":-16},
 "spacing":0,
 "bounds":"flush",
 "resolve":{"scale":{"x":"shared","y":"independent","color":"independent"},"legend":{"color":"independent"}},
 "vconcat":[
  {
   "width":86,"height":34,
   "title":{"text":["White blood cell counts before","and (directly) after exercise"],"anchor":"middle","frame":"group","fontSize":10,"fontWeight":"bold","lineHeight":11,"dx":0,"offset":10},
   "data":{"name":"cmpA"},
   "encoding":{"y":{"field":"tier","type":"quantitative","scale":{"domain":[0.4,2.6],"reverse":true,"nice":false,"zero":false},"axis":null}},
   "layer":[
    {"mark":{"type":"rule","strokeWidth":1},"encoding":{"x":{"field":"a","type":"nominal","bandPosition":0.65,"scale":{"domain":["W|Pre-exercise","W|Directly post-exercise","W|24h post-exercise","sp","E|Pre-exercise","E|Directly post-exercise","E|24h post-exercise"],"paddingInner":0,"paddingOuter":0.2},"axis":null},"x2":{"field":"b","bandPosition":0.35},"color":{"condition":{"test":"datum.sig","value":"#666666"},"value":"#b0b0b0"}}},
    {"transform":[{"filter":"datum.k=='adj' && datum.sig"}],"mark":{"type":"text","fontSize":6,"fontWeight":"bold","baseline":"bottom","dy":-5,"color":"black"},"encoding":{"x":{"field":"tx","type":"nominal","bandPosition":1,"axis":null},"text":{"field":"p"}}},
    {"transform":[{"filter":"datum.k=='adj' && !datum.sig"}],"mark":{"type":"text","fontSize":6.3,"fontWeight":"normal","baseline":"bottom","dy":-5,"color":"#808080"},"encoding":{"x":{"field":"tx","type":"nominal","bandPosition":1,"axis":null},"text":{"field":"p"}}},
    {"transform":[{"filter":"datum.k=='span' && datum.sig"}],"mark":{"type":"text","fontSize":6,"fontWeight":"bold","baseline":"bottom","dy":-5,"color":"black"},"encoding":{"x":{"field":"tx","type":"nominal","bandPosition":0.5,"axis":null},"text":{"field":"p"}}},
    {"transform":[{"filter":"datum.k=='span' && !datum.sig"}],"mark":{"type":"text","fontSize":6.3,"fontWeight":"normal","baseline":"bottom","dy":-5,"color":"#808080"},"encoding":{"x":{"field":"tx","type":"nominal","bandPosition":0.5,"axis":null},"text":{"field":"p"}}}
   ]
  },
  {
   "width":86,"height":216,
   "layer":[
    {"data":{"values":[{"lo":4,"hi":10,"c":"w"},{"lo":0.03,"hi":0.33,"c":"e"}]},"mark":{"type":"rect"},"encoding":{"y":{"field":"lo","type":"quantitative","scale":{"type":"log","domain":[0.0072,52],"nice":false},"axis":{"title":"Cell count (10⁹/L)","titleFontSize":9.5,"titlePadding":3,"labelFontSize":8.5,"labelPadding":2,"values":[0.008,0.009,0.01,0.02,0.03,0.04,0.05,0.06,0.07,0.08,0.09,0.1,0.2,0.3,0.4,0.5,0.6,0.7,0.8,0.9,1,2,3,4,5,6,7,8,9,10,20,30,40,50],"labelExpr":"indexof([0.01,0.1,1,10], datum.value) >= 0 ? '' + datum.value : ''","tickSize":{"condition":{"test":"indexof([0.01,0.1,1,10], datum.value) >= 0","value":5},"value":2.5}}},"y2":{"field":"hi"},"color":{"condition":{"test":"datum.c=='w'","value":"#e8e8e8"},"value":"#dcefe2"}}},
    {"data":{"name":"ptsA"},"mark":{"type":"circle","size":10,"opacity":0.85},"encoding":{"x":{"field":"g","type":"nominal","scale":{"domain":["W|Pre-exercise","W|Directly post-exercise","W|24h post-exercise","sp","E|Pre-exercise","E|Directly post-exercise","E|24h post-exercise"],"paddingInner":0,"paddingOuter":0.2},"axis":{"title":null,"values":["W|Pre-exercise","W|Directly post-exercise","W|24h post-exercise","E|Pre-exercise","E|Directly post-exercise","E|24h post-exercise"],"labelExpr":"split(datum.value,'|')[1]","labelAngle":-45,"labelFontSize":8,"tickSize":5,"labelPadding":1}},"xOffset":{"field":"i","type":"nominal"},"y":{"field":"v","type":"quantitative"},"color":{"field":"c","type":"nominal","scale":{"domain":["Total WBC","Eosinophils"],"range":["#a8a8a8","#87bd9b"]},"legend":{"title":null,"orient":"none","legendX":100,"legendY":12}}}},
    {"data":{"name":"sumA"},"mark":{"type":"rule","color":"black","strokeWidth":1.5},"encoding":{"x":{"field":"g","type":"nominal"},"y":{"field":"q1","type":"quantitative"},"y2":{"field":"q3"}}},
    {"data":{"name":"sumA"},"mark":{"type":"tick","color":"black","thickness":1.5,"size":9},"encoding":{"x":{"field":"g","type":"nominal"},"y":{"field":"med","type":"quantitative"}}},
    {"data":{"name":"sumA"},"mark":{"type":"tick","color":"black","thickness":1.5,"size":5},"encoding":{"x":{"field":"g","type":"nominal"},"y":{"field":"q1","type":"quantitative"}}},
    {"data":{"name":"sumA"},"mark":{"type":"tick","color":"black","thickness":1.5,"size":5},"encoding":{"x":{"field":"g","type":"nominal"},"y":{"field":"q3","type":"quantitative"}}}
   ]
  }
 ]
},
{
 "title":{"text":"B","anchor":"start","fontSize":17,"fontWeight":"bold","dx":-22,"offset":-16},
 "spacing":0,
 "bounds":"flush",
 "resolve":{"scale":{"x":"shared","y":"independent","color":"independent"},"legend":{"color":"independent"}},
 "vconcat":[
  {
   "width":171,"height":34,
   "title":{"text":["Percentage of CD11bᵇʳⁱᵍʰᵗ/CD62Lᵇʳⁱᵍʰᵗ eosinophils"," "],"anchor":"middle","frame":"group","fontSize":10.5,"fontWeight":"bold","lineHeight":11,"dx":0,"offset":10},
   "data":{"name":"cmpB"},
   "encoding":{"y":{"field":"tier","type":"quantitative","scale":{"domain":[0.4,2.6],"reverse":true,"nice":false,"zero":false},"axis":null}},
   "layer":[
    {"mark":{"type":"rule","strokeWidth":1},"encoding":{"x":{"field":"a","type":"nominal","bandPosition":0.65,"scale":{"domain":["b-|Pre-exercise","b-|Directly post-exercise","b-|24h post-exercise","s1","b+|Pre-exercise","b+|Directly post-exercise","b+|24h post-exercise","s2","L-|Pre-exercise","L-|Directly post-exercise","L-|24h post-exercise","s3","L+|Pre-exercise","L+|Directly post-exercise","L+|24h post-exercise"],"paddingInner":0,"paddingOuter":0.1},"axis":null},"x2":{"field":"b","bandPosition":0.35},"color":{"condition":{"test":"datum.sig","value":"#666666"},"value":"#b0b0b0"}}},
    {"transform":[{"filter":"datum.k=='adj' && datum.sig"}],"mark":{"type":"text","fontSize":6,"fontWeight":"bold","baseline":"bottom","dy":-5,"color":"black"},"encoding":{"x":{"field":"tx","type":"nominal","bandPosition":1,"axis":null},"text":{"field":"p"}}},
    {"transform":[{"filter":"datum.k=='adj' && !datum.sig"}],"mark":{"type":"text","fontSize":6.3,"fontWeight":"normal","baseline":"bottom","dy":-5,"color":"#808080"},"encoding":{"x":{"field":"tx","type":"nominal","bandPosition":1,"axis":null},"text":{"field":"p"}}},
    {"transform":[{"filter":"datum.k=='span' && datum.sig"}],"mark":{"type":"text","fontSize":6,"fontWeight":"bold","baseline":"bottom","dy":-5,"color":"black"},"encoding":{"x":{"field":"tx","type":"nominal","bandPosition":0.5,"axis":null},"text":{"field":"p"}}},
    {"transform":[{"filter":"datum.k=='span' && !datum.sig"}],"mark":{"type":"text","fontSize":6.3,"fontWeight":"normal","baseline":"bottom","dy":-5,"color":"#808080"},"encoding":{"x":{"field":"tx","type":"nominal","bandPosition":0.5,"axis":null},"text":{"field":"p"}}}
   ]
  },
  {
   "width":171,"height":216,
   "layer":[
    {"data":{"name":"ptsB"},"mark":{"type":"circle","size":10,"opacity":0.85},"encoding":{"x":{"field":"g","type":"nominal","scale":{"domain":["b-|Pre-exercise","b-|Directly post-exercise","b-|24h post-exercise","s1","b+|Pre-exercise","b+|Directly post-exercise","b+|24h post-exercise","s2","L-|Pre-exercise","L-|Directly post-exercise","L-|24h post-exercise","s3","L+|Pre-exercise","L+|Directly post-exercise","L+|24h post-exercise"],"paddingInner":0,"paddingOuter":0.1},"axis":{"title":null,"values":["b-|Pre-exercise","b-|Directly post-exercise","b-|24h post-exercise","b+|Pre-exercise","b+|Directly post-exercise","b+|24h post-exercise","L-|Pre-exercise","L-|Directly post-exercise","L-|24h post-exercise","L+|Pre-exercise","L+|Directly post-exercise","L+|24h post-exercise"],"labelExpr":"split(datum.value,'|')[1]","labelAngle":-45,"labelFontSize":7,"tickSize":5,"labelPadding":1}},"xOffset":{"field":"i","type":"nominal"},"y":{"field":"v","type":"quantitative","scale":{"domain":[0,100],"nice":false},"axis":{"title":"Percentage of all eosinophils","titleFontSize":9.5,"titlePadding":9,"labelFontSize":8.5,"labelPadding":2,"values":[0,20,40,60,80,100],"tickSize":5}},"color":{"field":"c","type":"nominal","scale":{"domain":["fNLF-","fNLF+"],"range":["#7dba97","#e3868e"]},"legend":{"title":null,"orient":"none","legendX":168,"legendY":12}}}},
    {"mark":{"type":"rule","color":"black","strokeDash":[3,2],"strokeWidth":1.2},"encoding":{"x":{"datum":"s2","type":"nominal"},"y":{"datum":0,"type":"quantitative"},"y2":{"datum":100}}},
    {"data":{"values":[{"x":"s1","t":"CD11b"},{"x":"s3","t":"CD62L"}]},"mark":{"type":"text","fontSize":10,"fontWeight":"bold","color":"black"},"encoding":{"x":{"field":"x","type":"nominal"},"y":{"datum":91,"type":"quantitative"},"text":{"field":"t"}}},
    {"data":{"name":"sumB"},"mark":{"type":"rule","color":"black","strokeWidth":1.5},"encoding":{"x":{"field":"g","type":"nominal"},"y":{"field":"q1","type":"quantitative"},"y2":{"field":"q3"}}},
    {"data":{"name":"sumB"},"mark":{"type":"tick","color":"black","thickness":1.5,"size":9},"encoding":{"x":{"field":"g","type":"nominal"},"y":{"field":"med","type":"quantitative"}}},
    {"data":{"name":"sumB"},"mark":{"type":"tick","color":"black","thickness":1.5,"size":5},"encoding":{"x":{"field":"g","type":"nominal"},"y":{"field":"q1","type":"quantitative"}}},
    {"data":{"name":"sumB"},"mark":{"type":"tick","color":"black","thickness":1.5,"size":5},"encoding":{"x":{"field":"g","type":"nominal"},"y":{"field":"q3","type":"quantitative"}}}
   ]
  }
 ]
}
],
"spacing":-8,
"resolve":{"scale":{"x":"independent","y":"independent","color":"independent","xOffset":"independent"},"legend":{"color":"independent"}}
},
{
 "width":420,"height":116,
 "title":{"text":"C","anchor":"start","frame":"group","fontSize":17,"fontWeight":"bold","offset":-18,"dx":-55},
 "data":{"name":"tbl"},
 "encoding":{"y":{"field":"ln","type":"ordinal","scale":{"domain":[0,1,2,3,4,5,6,7,8],"paddingInner":0,"paddingOuter":0},"axis":null}},
 "layer":[
  {"data":{"values":[{"ln":3},{"ln":5},{"ln":7}]},"mark":{"type":"rect","color":"#efefef","xOffset":-50,"x2Offset":19},"encoding":{"x":{"datum":"c1","type":"nominal","bandPosition":0,"scale":{"domain":["c1","c2","c3","c4","c5","c6"],"paddingInner":0,"paddingOuter":0},"axis":null},"x2":{"datum":"c6","bandPosition":1}}},
  {"data":{"values":[{"ln":3}]},"mark":{"type":"rule","color":"#9a9a9a","strokeWidth":1,"xOffset":-50,"x2Offset":19},"encoding":{"x":{"datum":"c1","type":"nominal","bandPosition":0},"x2":{"datum":"c6","bandPosition":1},"y":{"field":"ln","type":"ordinal","bandPosition":0}}},
  {"data":{"values":[{"ln":3}]},"mark":{"type":"rule","color":"#9a9a9a","strokeWidth":1,"xOffset":22},"encoding":{"x":{"datum":"c1","type":"nominal","bandPosition":0},"y":{"field":"ln","type":"ordinal","bandPosition":0},"y2":{"datum":8,"bandPosition":1}}},
  {"transform":[{"filter":"datum.h && datum.col=='r'"}],"mark":{"type":"text","align":"left","baseline":"middle","dx":-40,"fontSize":9.5,"fontStyle":"italic","color":"black"},"encoding":{"x":{"datum":"c1","type":"nominal","bandPosition":0},"text":{"field":"t"}}},
  {"transform":[{"filter":"datum.h && datum.col!='r'"}],"mark":{"type":"text","align":"left","baseline":"middle","dx":26,"fontSize":9.5,"fontStyle":"italic","color":"black"},"encoding":{"x":{"field":"col","type":"nominal","bandPosition":0},"text":{"field":"t"}}},
  {"transform":[{"filter":"!datum.h"}],"mark":{"type":"text","align":"left","baseline":"middle","dx":26,"fontSize":10,"color":"black"},"encoding":{"x":{"field":"col","type":"nominal","bandPosition":0},"text":{"field":"t"}}}
 ]
}
],
"columns":1,
"align":"none",
"spacing":10,
"resolve":{"scale":{"x":"independent","y":"independent","color":"independent"}}
}
